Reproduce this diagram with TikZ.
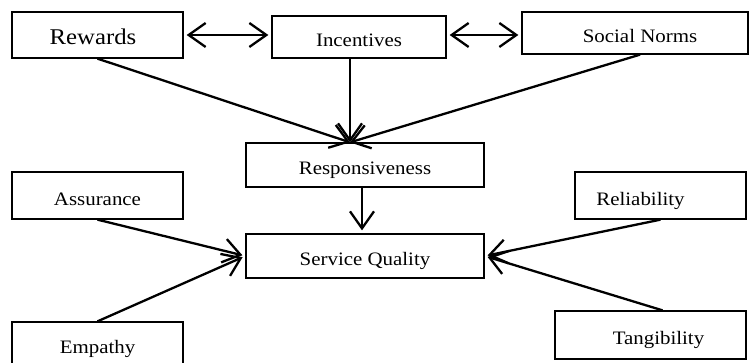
\documentclass[tikz,border=0pt]{standalone}
\usepackage{fontspec}
\setmainfont{Liberation Serif}[FakeStretch=1.1]
\usetikzlibrary{arrows.meta}
\tikzset{
  factor/.style={draw, line width=1.3pt, inner sep=0pt, font=\fontsize{19}{22}\selectfont,
    text height=24pt, text depth=4pt},
  link/.style={line width=2.3pt, -{Straight Barb[length=17pt,width=24pt]}},
  twolink/.style={line width=2.3pt, {Straight Barb[length=17pt,width=24pt]}-{Straight Barb[length=17pt,width=24pt]}}
}
\begin{document}
\begin{tikzpicture}[x=1pt, y=-1pt]
\useasboundingbox (0,0) rectangle (750,363);
\node [factor, minimum width=171pt, minimum height=46pt, font=\fontsize{22.5}{26}\selectfont] (rewards) at (97.5,35) {Rewards\hspace*{9pt}};
\node [factor, minimum width=174pt, minimum height=42pt] (incent) at (359,37) {Incentives};
\node [factor, minimum width=226pt, minimum height=42pt] (norms) at (635,33) {\hspace*{10pt}Social Norms};
\node [factor, minimum width=238pt, minimum height=44pt] (resp) at (365,165) {Responsiveness};
\node [factor, minimum width=238pt, minimum height=44pt] (sq) at (365,256) {Service Quality};
\node [factor, minimum width=171pt, minimum height=47pt] (assur) at (97.5,195.5) {Assurance};
\node [factor, minimum width=171pt, minimum height=47pt] (reli) at (660.5,195.5) {Reliability\hspace*{40pt}};
\node [factor, minimum width=171pt, minimum height=44pt] (empathy) at (97.5,344) {Empathy};
\node [factor, minimum width=191pt, minimum height=48pt] (tang) at (650.5,335) {\hspace*{16pt}Tangibility};
\coordinate (resp-in) at ([xshift=-15pt]resp.north);
\draw [twolink, shorten <=3pt, shorten >=3pt] (rewards.east) -- (rewards.east -| incent.west);
\draw [twolink, shorten <=3pt, shorten >=3pt] ([yshift=2pt]incent.east) -- ([yshift=2pt]incent.east -| norms.west);
\draw [link] (rewards.south) -- (resp-in);
\draw [link] (incent.south -| resp-in) -- (resp-in);
\draw [link] ([xshift=5pt]norms.south) -- (resp-in);
\draw [link, shorten >=3pt] ([xshift=-3pt]resp.south) -- ([xshift=-3pt]sq.north);
\draw [link, shorten >=3pt] (assur.south) -- (sq.west);
\draw [link, shorten >=3pt] (empathy.north) -- (sq.west);
\draw [link, shorten >=3pt] (reli.south) -- (sq.east);
\draw [link, shorten >=3pt] ([xshift=12pt]tang.north) -- (sq.east);
\end{tikzpicture}
\end{document}
